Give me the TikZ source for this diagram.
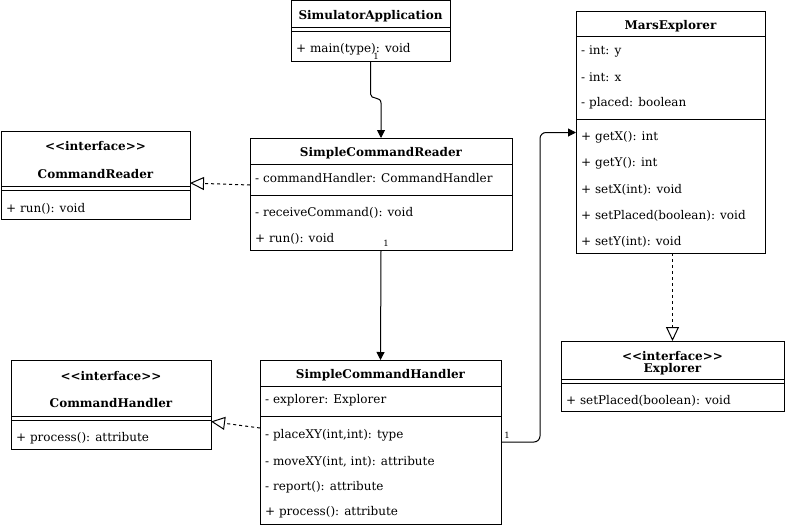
\documentclass[tikz,border=0pt]{standalone}
\usepackage{fontspec}
\setmainfont{DejaVu Serif}
\usetikzlibrary{arrows.meta}

\begin{document}
\begin{tikzpicture}[x=1pt,y=-1pt]
	\tikzstyle{classbox}=[draw,line width=1pt,rectangle,anchor=north west,inner sep=0pt,outer sep=0pt]
	\tikzstyle{title}=[font=\fontsize{12}{14}\selectfont\bfseries,inner sep=0pt,yshift=-1pt]
	\tikzstyle{member}=[font=\fontsize{12}{14}\selectfont,anchor=west,inner sep=0pt,yshift=-1.5pt]
	\tikzstyle{mult}=[font=\fontsize{8.5}{9}\selectfont,inner sep=0pt]
	\tikzstyle{sep}=[draw,line width=1pt]
	\tikzstyle{assoc}=[draw,line width=1pt,-{Triangle[length=8pt,width=8pt]}]
	\tikzstyle{realize}=[draw,line width=1pt,dash pattern=on 3pt off 3pt,-{Triangle[open,length=14pt,width=13pt]}]

	\useasboundingbox (0,0) rectangle (786,527);

	% SimulatorApplication
	\node[classbox,minimum width=159pt,minimum height=60pt] (sim) at (291,1) {};
	\node[title] (sim-t) at (370.5,15) {SimulatorApplication};
	\path[sep] (291,28) -- (450,28);
	\path[sep] (291,32) -- (450,32);
	\node[member] (sim-m1) at (296,48) {+ main(type): void};

	% CommandReader
	\node[classbox,minimum width=189pt,minimum height=88pt] (creader) at (1,131) {};
	\node[title] (creader-s) at (95.5,145) {{<}{<}interface{>}{>}};
	\node[title] (creader-t) at (95.5,173) {CommandReader};
	\path[sep] (1,186) -- (190,186);
	\path[sep] (1,190) -- (190,190);
	\node[member] (creader-m1) at (6,207) {+ run(): void};

	% SimpleCommandReader
	\node[classbox,minimum width=262pt,minimum height=112pt] (reader) at (250,138) {};
	\node[title] (reader-t) at (381,152) {SimpleCommandReader};
	\path[sep] (250,164) -- (512,164);
	\node[member] (reader-a1) at (255,177) {- commandHandler: CommandHandler};
	\path[sep] (250,195) -- (512,195);
	\node[member] (reader-m1) at (255,211) {- receiveCommand(): void};
	\node[member] (reader-m2) at (255,237) {+ run(): void};

	% MarsExplorer
	\node[classbox,minimum width=189pt,minimum height=241pt] (mars) at (576,12) {};
	\node[title] (mars-t) at (670.5,25) {MarsExplorer};
	\path[sep] (576,37) -- (765,37);
	\node[member] (mars-a1) at (581,50) {- int: y};
	\node[member] (mars-a2) at (581,76) {- int: x};
	\node[member] (mars-a3) at (581,102) {- placed: boolean};
	\path[sep] (576,119) -- (765,119);
	\node[member] (mars-m1) at (581,136) {+ getX(): int};
	\node[member] (mars-m2) at (581,162) {+ getY(): int};
	\node[member] (mars-m3) at (581,188) {+ setX(int): void};
	\node[member] (mars-m4) at (581,214) {+ setPlaced(boolean): void};
	\node[member] (mars-m5) at (581,240) {+ setY(int): void};

	% CommandHandler
	\node[classbox,minimum width=200pt,minimum height=89pt] (chandler) at (11,360) {};
	\node[title] (chandler-s) at (111,375) {{<}{<}interface{>}{>}};
	\node[title] (chandler-t) at (111,402) {CommandHandler};
	\path[sep] (11,416) -- (211,416);
	\path[sep] (11,420) -- (211,420);
	\node[member] (chandler-m1) at (16,437) {+ process(): attribute};

	% SimpleCommandHandler
	\node[classbox,minimum width=241pt,minimum height=164pt] (handler) at (260,360) {};
	\node[title] (handler-t) at (380.5,374) {SimpleCommandHandler};
	\path[sep] (260,386) -- (501,386);
	\node[member] (handler-a1) at (265,399) {- explorer: Explorer};
	\path[sep] (260,416) -- (501,416);
	\node[member] (handler-m1) at (265,434) {- placeXY(int,int): type};
	\node[member] (handler-m2) at (265,460) {- moveXY(int, int): attribute};
	\node[member] (handler-m3) at (265,486) {- report(): attribute};
	\node[member] (handler-m4) at (265,511) {+ process(): attribute};

	% Explorer
	\node[classbox,minimum width=223pt,minimum height=70pt] (explorer) at (561,341) {};
	\node[title] (explorer-s) at (672.5,355) {{<}{<}interface{>}{>}};
	\node[title] (explorer-t) at (672.5,368) {Explorer};
	\path[sep] (561,379) -- (784,379);
	\path[sep] (561,383) -- (784,383);
	\node[member] (explorer-m1) at (566,399) {+ setPlaced(boolean): void};

	% associations
	\path[assoc] (sim.south) -- (370.5,94) .. controls (370.5,100) and (381,96) .. (381,103) -- (reader.north);
	\node[mult] (m1) at (376,56.5) {1};
	\path[assoc] (reader.south) -- (handler.north);
	\node[mult] (m2) at (386,243) {1};
	\coordinate (bend) at (540,300);
	\path[assoc,rounded corners=6pt] (handler.east) -| (bend) |- (mars.west);
	\node[mult] (m3) at (507,435) {1};

	% realizations
	\path[realize] ([yshift=9pt]reader.west) -- ([yshift=-8pt]creader.east);
	\path[realize] ([yshift=14pt]handler.west) -- ([yshift=-17pt]chandler.east);
	\path[realize] (mars.south -| explorer.north) -- (explorer.north);
\end{tikzpicture}
\end{document}
